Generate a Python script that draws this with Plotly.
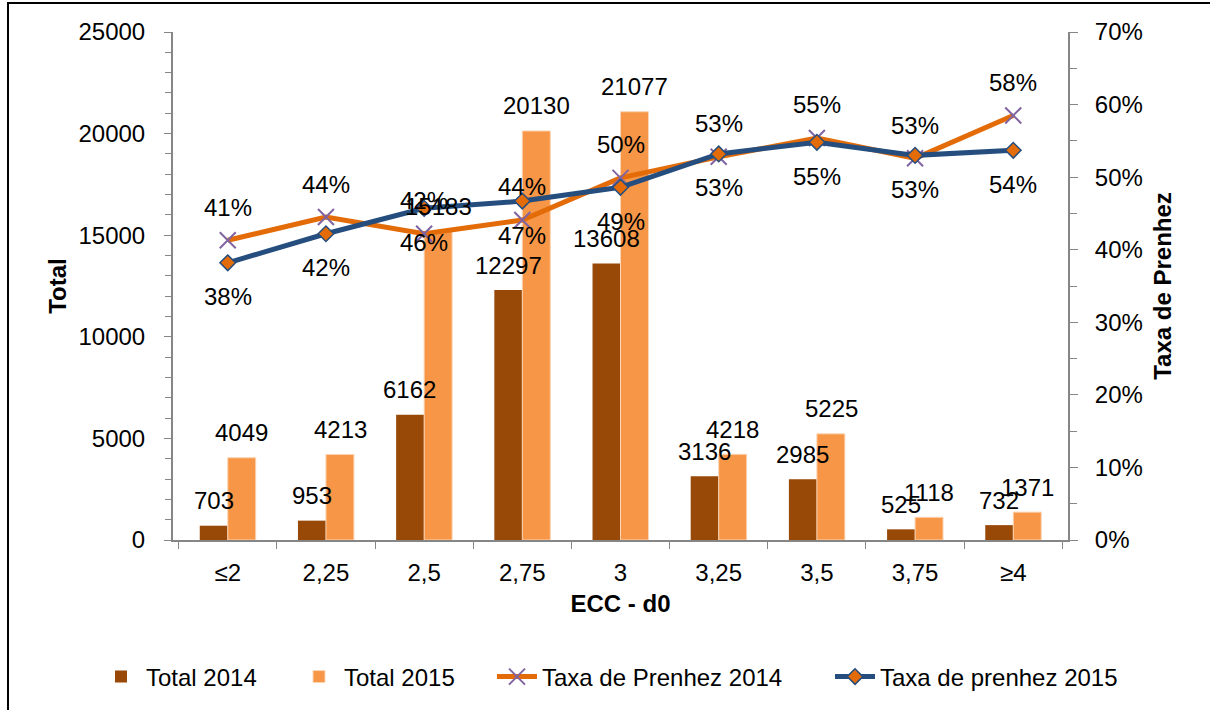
import plotly.graph_objects as go

categories = ["≤2", "2,25", "2,5", "2,75", "3", "3,25", "3,5", "3,75", "≥4"]
total_2014 = [703, 953, 6162, 12297, 13608, 3136, 2985, 525, 732]
total_2015 = [4049, 4213, 15183, 20130, 21077, 4218, 5225, 1118, 1371]
taxa_2014 = [0.413, 0.445, 0.422, 0.441, 0.499, 0.528, 0.554, 0.526, 0.585]
taxa_2015 = [0.382, 0.422, 0.457, 0.467, 0.486, 0.532, 0.548, 0.530, 0.537]

FONT = "Liberation Sans, Arial, sans-serif"
FS = 24
W, H = 1210, 710
ML, MR, MT, MB = 173, 142, 32, 170
PW, PH = W - ML - MR, H - MT - MB
BARGAP = 0.43
HALF = (1 - BARGAP) / 2 * PW / len(categories) / 2  # px offset of each bar centre

fig = go.Figure()
fig.add_trace(go.Bar(
    x=categories, y=total_2014, name="Total 2014", legend="legend",
    marker=dict(color="#984807", line=dict(color="#984807", width=0)),
))
fig.add_trace(go.Bar(
    x=categories, y=total_2015, name="Total 2015", legend="legend2",
    marker=dict(color="#F79646", line=dict(color="#FBD5B5", width=1)),
))
fig.add_trace(go.Scatter(
    x=categories, y=taxa_2014, name="Taxa de Prenhez 2014", yaxis="y2", legend="legend3",
    mode="lines+markers",
    line=dict(color="#E36C09", width=5),
    marker=dict(symbol="x-thin", size=16, color="#8064A2",
                line=dict(color="#8064A2", width=2)),
    cliponaxis=False,
))
fig.add_trace(go.Scatter(
    x=categories, y=taxa_2015, name="Taxa de prenhez 2015", yaxis="y2", legend="legend4",
    mode="lines+markers",
    line=dict(color="#254E7F", width=5),
    marker=dict(symbol="diamond", size=12, color="#E36C09",
                line=dict(color="#254E7F", width=1.5)),
    cliponaxis=False,
))

lab_font = dict(size=FS, color="black", family=FONT)
annotations = []
for i, v in enumerate(total_2014):
    annotations.append(dict(x=i, y=v, xref="x", yref="y", text=str(v), showarrow=False,
                            xshift=-HALF, yshift=25, font=lab_font))
for i, v in enumerate(total_2015):
    annotations.append(dict(x=i, y=v, xref="x", yref="y", text=str(v), showarrow=False,
                            xshift=HALF, yshift=25, font=lab_font))
for i, v in enumerate(taxa_2014):
    annotations.append(dict(x=i, y=v, xref="x", yref="y2", text=f"{round(v*100)}%",
                            showarrow=False, yshift=33, font=lab_font))
for i, v in enumerate(taxa_2015):
    annotations.append(dict(x=i, y=v, xref="x", yref="y2", text=f"{round(v*100)}%",
                            showarrow=False, yshift=-34, font=lab_font))

# outer border of the chart area
bx0 = (8 - ML) / PW
bx1 = (W + 10 - ML) / PW
by1 = 1 + (MT - 3) / PH
by0 = (MT + PH - (H + 10)) / PH


def px_x(p):
    return (p - ML) / PW


LEG_Y = (MT + PH - 677) / PH
def legend_at(left_px):
    return dict(orientation="h", x=px_x(left_px), xanchor="left", y=LEG_Y, yanchor="middle",
                font=dict(size=FS, family=FONT), itemwidth=40, bgcolor="rgba(0,0,0,0)")


fig.update_layout(
    width=W, height=H,
    margin=dict(l=ML, r=MR, t=MT, b=MB, autoexpand=False),
    paper_bgcolor="white", plot_bgcolor="white",
    font=dict(family=FONT, size=FS, color="black"),
    barmode="group", bargap=BARGAP, bargroupgap=0,
    showlegend=True,
    legend=legend_at(96),
    legend2=legend_at(294),
    legend3=legend_at(492),
    legend4=legend_at(830),
    xaxis=dict(
        type="category",
        title=dict(text="<b>ECC - d0</b>", font=dict(size=FS), standoff=10),
        showline=True, linecolor="#868686", linewidth=2,
        ticks="outside", tickson="boundaries", ticklen=7, tickcolor="#868686",
        tickfont=dict(size=FS), showgrid=False, zeroline=False,
        ticklabelstandoff=10, automargin=False,
    ),
    yaxis=dict(
        title=dict(text="<b>Total</b>", font=dict(size=FS), standoff=5),
        range=[0, 25000], tickvals=[0, 5000, 10000, 15000, 20000, 25000], tickformat="d",
        showline=True, linecolor="#868686", linewidth=2,
        ticks="outside", ticklen=7, tickcolor="#868686",
        minor=dict(dtick=1000, ticks="outside", ticklen=6, tickcolor="#868686", showgrid=False),
        tickfont=dict(size=FS), showgrid=False, zeroline=False,
        ticklabelstandoff=14, automargin=False,
    ),
    yaxis2=dict(
        title=dict(text="<b>Taxa de Prenhez</b>", font=dict(size=FS), standoff=12),
        overlaying="y", side="right",
        range=[0, 0.7], tickvals=[0, 0.1, 0.2, 0.3, 0.4, 0.5, 0.6, 0.7], tickformat=".0%",
        showline=True, linecolor="#868686", linewidth=2,
        ticks="outside", ticklen=8, tickcolor="#868686",
        minor=dict(dtick=0.05, ticks="outside", ticklen=7, tickcolor="#868686", showgrid=False),
        tickfont=dict(size=FS), showgrid=False, zeroline=False,
        ticklabelstandoff=12, automargin=False,
    ),
    annotations=annotations,
    shapes=[dict(type="rect", xref="paper", yref="paper", x0=bx0, x1=bx1, y0=by0, y1=by1,
                 line=dict(color="black", width=2), fillcolor="rgba(0,0,0,0)", layer="below")],
)

fig.write_html("out.html", config={"displayModeBar": False},
               post_script="document.body.style.margin='0';document.body.style.overflow='hidden';")
